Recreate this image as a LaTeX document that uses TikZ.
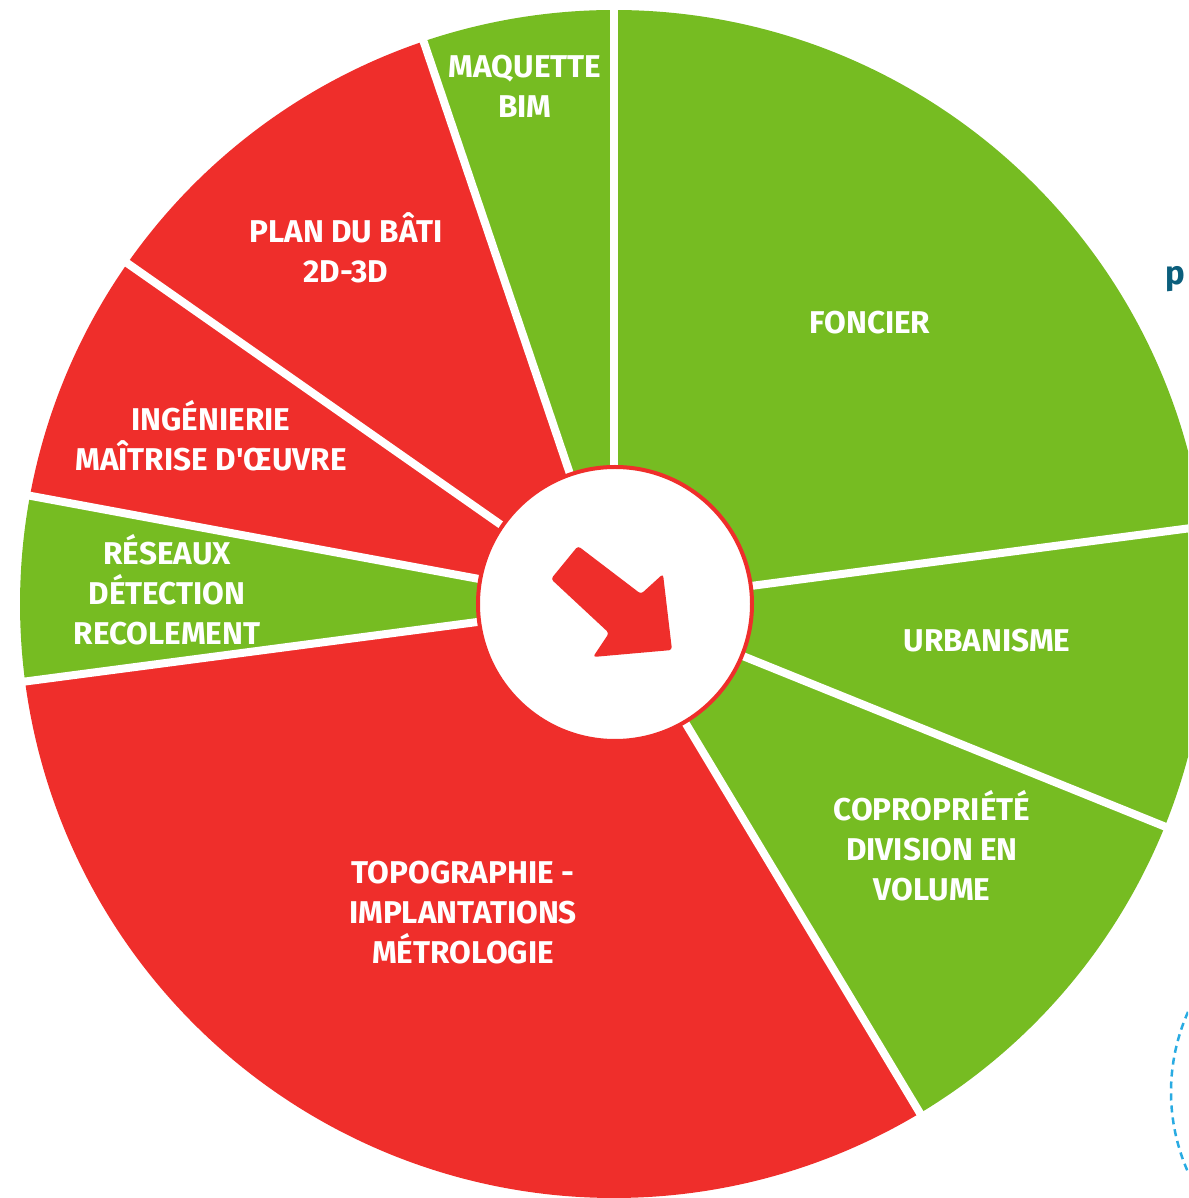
\documentclass[tikz,border=0pt]{standalone}
\usepackage{fontspec}
\newfontfamily\wheelFont{Fira Sans}
\usetikzlibrary{positioning}
\definecolor{wheelGreen}{HTML}{76BC22}
\definecolor{wheelRed}{HTML}{EF2E2B}
\definecolor{wheelBlue}{HTML}{29ABE2}
\definecolor{wheelTeal}{HTML}{0B5E7C}
\tikzset{
  greenSector/.style={fill=wheelGreen},
  redSector/.style={fill=wheelRed},
  gapLine/.style={draw=white, line width=8pt},
  sectorLabel/.style={
    text=white,
    font=\wheelFont\bfseries\fontsize{31.5}{40}\selectfont,
    align=center,
    inner sep=0pt
  },
  hubCircle/.style={
    circle,
    fill=white,
    draw=wheelRed,
    line width=4pt,
    minimum size=274pt,
    inner sep=0pt
  },
  hubArrow/.style={fill=wheelRed, rounded corners=3pt},
  edgeWord/.style={
    text=wheelTeal,
    font=\wheelFont\bfseries\fontsize{33}{40}\selectfont,
    inner sep=0pt,
    anchor=base west
  },
  dashedRing/.style={draw=wheelBlue, line width=2.5pt, dash pattern=on 7pt off 5pt}
}

\begin{document}
\begin{tikzpicture}[x=1pt,y=1pt]
  \useasboundingbox (-614,-594) rectangle (574,604);
  \clip (-614,-594) rectangle (574,604);
  \def\outerR{594}

  % sectors, clockwise from the top
  \fill[greenSector] (0,0) -- (90:\outerR) arc (90:7.5:\outerR) -- cycle;
  \fill[greenSector] (0,0) -- (7.5:\outerR) arc (7.5:-22:\outerR) -- cycle;
  \fill[greenSector] (0,0) -- (-22:\outerR) arc (-22:-59:\outerR) -- cycle;
  \fill[redSector] (0,0) -- (-59:\outerR) arc (-59:-172.5:\outerR) -- cycle;
  \fill[greenSector] (0,0) -- (187.5:\outerR) arc (187.5:169.5:\outerR) -- cycle;
  \fill[redSector] (0,0) -- (169.5:\outerR) arc (169.5:145:\outerR) -- cycle;
  \fill[redSector] (0,0) -- (145:\outerR) arc (145:108.7:\outerR) -- cycle;
  \fill[greenSector] (0,0) -- (108.7:\outerR) arc (108.7:90:\outerR) -- cycle;

  % white gaps
  \foreach \a in {90,7.5,-22,-59,187.5,169.5,145,108.7}
    \draw[gapLine] (0,0) -- (\a:\outerR+20);

  % hub
  \node[hubCircle] (hub) at (1,0) {};
  \fill[hubArrow] ([shift={(-37,58)}]hub.center) -- ([shift={(26,10)}]hub.center)
    -- ([shift={(48,30)}]hub.center) -- ([shift={(57,-46)}]hub.center)
    -- ([shift={(-22,-53)}]hub.center) -- ([shift={(-6,-29)}]hub.center)
    -- ([shift={(-64,25)}]hub.center) -- cycle;

  % labels
  \node[sectorLabel] (bim) at (-89,518) {MAQUETTE\\BIM};
  \node[sectorLabel] (foncier) at (256,281) {FONCIER};
  \node[sectorLabel] (urba) at (373,-37) {URBANISME};
  \node[sectorLabel] (copro) at (318,-242) {COPROPRIÉTÉ\\DIVISION EN\\VOLUME};
  \node[sectorLabel] (topo) at (-151,-309) {TOPOGRAPHIE -\\IMPLANTATIONS\\MÉTROLOGIE};
  \node[sectorLabel] (reseaux) at (-447,14) {RÉSEAUX\\DÉTECTION\\RECOLEMENT};
  \node[sectorLabel] (inge) at (-403,168) {INGÉNIERIE\\MAÎTRISE D'ŒUVRE};
  \node[sectorLabel] (bati) at (-268,356) {PLAN DU BÂTI\\2D-3D};

  % cut-off bits at the right edge
  \node[edgeWord] (edgeP) at (551,319) {p};
  \draw[dashedRing] (754,-488) ++(156:197) arc (156:204:197);
\end{tikzpicture}
\end{document}
